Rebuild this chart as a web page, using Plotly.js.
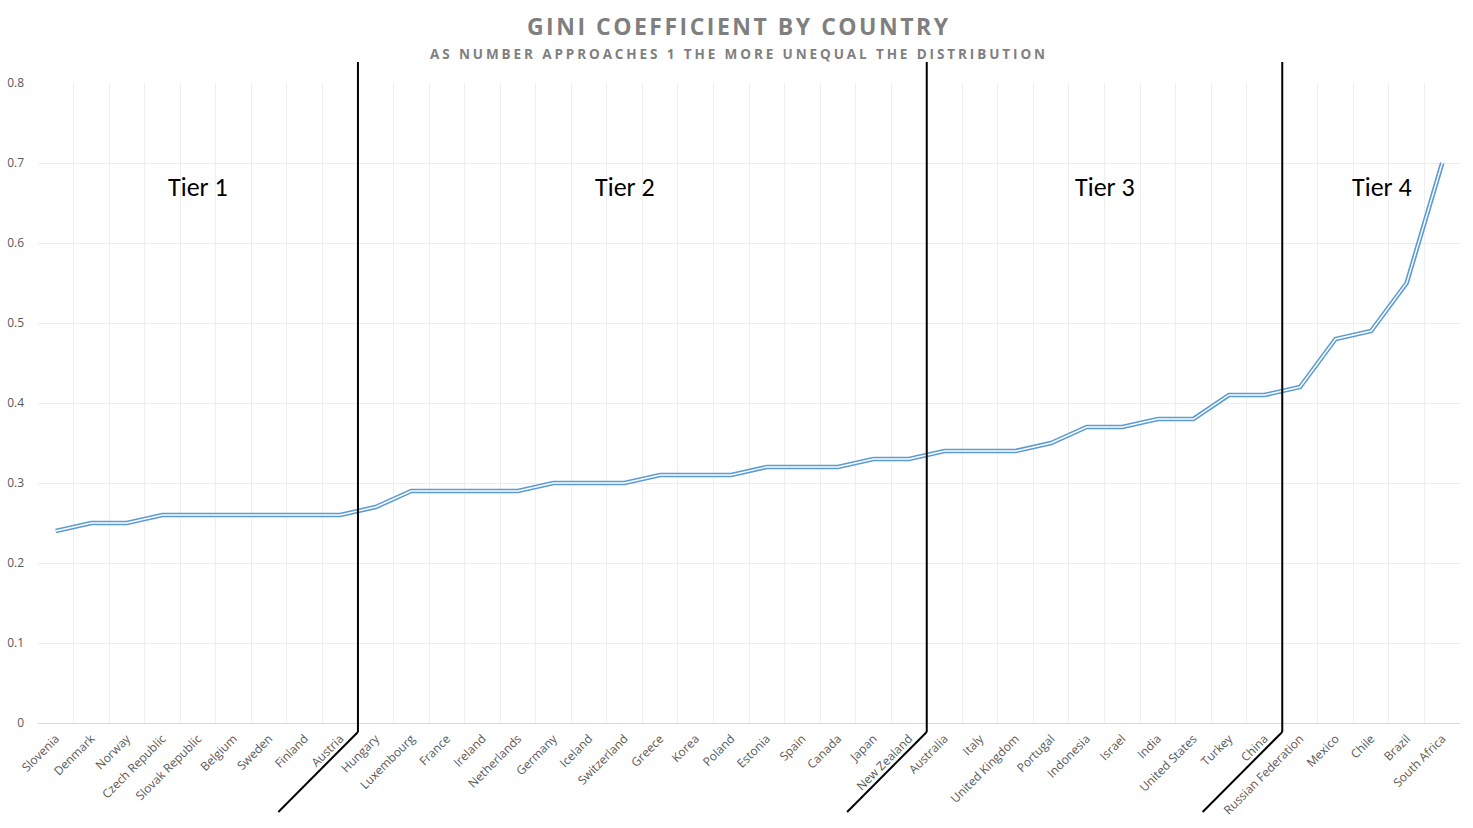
<!DOCTYPE html>
<html>
<head>
<meta charset="utf-8">
<script src="https://cdn.plot.ly/plotly-3.0.1.min.js"></script>
<style>
html,body{margin:0;padding:0;background:#fff;}
#chart{width:1473px;height:828px;}
</style>
</head>
<body>
<div id="chart"></div>
<script>
const countries = ["Slovenia","Denmark","Norway","Czech Republic","Slovak Republic","Belgium","Sweden","Finland","Austria","Hungary","Luxembourg","France","Ireland","Netherlands","Germany","Iceland","Switzerland","Greece","Korea","Poland","Estonia","Spain","Canada","Japan","New Zealand","Australia","Italy","United Kingdom","Portugal","Indonesia","Israel","India","United States","Turkey","China","Russian Federation","Mexico","Chile","Brazil","South Africa"];
const gini = [0.24,0.25,0.25,0.26,0.26,0.26,0.26,0.26,0.26,0.27,0.29,0.29,0.29,0.29,0.30,0.30,0.30,0.31,0.31,0.31,0.32,0.32,0.32,0.33,0.33,0.34,0.34,0.34,0.35,0.37,0.37,0.38,0.38,0.41,0.41,0.42,0.48,0.49,0.55,0.70];
const tierLabels = ["Tier 1","Tier 2","Tier 3","Tier 4"];
const tierLabelAt = [4, 16, 29.5, 37.3];
const tierBoundaries = [8.5, 24.5, 34.5];
const yTicks = [0,0.1,0.2,0.3,0.4,0.5,0.6,0.7,0.8];
const titleText = 'GINI COEFFICIENT BY COUNTRY';
const subtitleText = 'AS NUMBER APPROACHES 1 THE MORE UNEQUAL THE DISTRIBUTION';

const traces = [
  {x: countries, y: gini, type:'scatter', mode:'lines', line:{color:'#5b9bd5', width:4.6}, hoverinfo:'skip', showlegend:false},
  {x: countries, y: gini, type:'scatter', mode:'lines', line:{color:'#ffffff', width:1.4}, hoverinfo:'skip', showlegend:false}
];

const shapes = [];
tierBoundaries.forEach(b => {
  shapes.push({type:'line', xref:'x', yref:'paper', x0:b, x1:b, y0:1.033, y1:-0.014, line:{color:'#000', width:2}, layer:'above'});
  shapes.push({type:'line', xref:'x', yref:'paper', x0:b, x1:b-2.24, y0:-0.014, y1:-0.139, line:{color:'#000', width:2}, layer:'above'});
});

const annotations = tierLabels.map((t,i) => ({
  text:t, x:tierLabelAt[i], y:0.67, xref:'x', yref:'y', showarrow:false,
  font:{family:'Carlito, Calibri, "Open Sans", sans-serif', size:26, color:'#000'}
}));
annotations.push({
  text:subtitleText,
  xref:'paper', yref:'paper', x:0.5, y:1.045, xanchor:'center', yanchor:'middle',
  showarrow:false, font:{family:'"Open Sans", sans-serif', size:13.5, color:'#7f7f7f', weight:700}
});

const layout = {
  width:1473, height:828,
  margin:{l:38, r:13, t:83, b:105},
  paper_bgcolor:'#fff', plot_bgcolor:'#fff',
  title:{text:titleText, x:0.5, xref:'paper', xanchor:'center', y:0.967, yanchor:'middle',
    font:{family:'"Open Sans", sans-serif', size:23, color:'#7f7f7f', weight:700}},
  xaxis:{type:'category', tickangle:-45, tickson:'boundaries', showgrid:true, gridcolor:'#efefef', gridwidth:1,
    ticks:'', showline:true, linecolor:'#d9d9d9', linewidth:1, range:[-0.5, 39.5], ticklabelstandoff:3,
    tickfont:{family:'"Open Sans", sans-serif', size:12, color:'#595959'}, automargin:false, fixedrange:true},
  yaxis:{range:[0,0.8], tickvals:yTicks, ticktext:yTicks.map(v=>String(v)), showgrid:true, gridcolor:'#ececec',
    zeroline:false, showline:false, ticks:'', ticklabelstandoff:13,
    tickfont:{family:'"Open Sans", sans-serif', size:12, color:'#595959'}, automargin:false, fixedrange:true},
  shapes:shapes,
  annotations:annotations,
  showlegend:false
};

function spaceAndCenter(textEl, spacing, cx) {
  textEl.style.letterSpacing = spacing + 'px';
  const r = textEl.getBoundingClientRect();
  const host = document.getElementById('chart').getBoundingClientRect();
  const cur = r.left - host.left + r.width / 2;
  const tr = textEl.getAttribute('transform') || '';
  textEl.setAttribute('transform', tr + ' translate(' + (cx - cur + spacing/2) + ',0)');
}

Plotly.newPlot('chart', traces, layout, {displayModeBar:false, staticPlot:true}).then(() => {
  const t = document.querySelector('.gtitle');
  if (t) spaceAndCenter(t, 2.5, 737.5);
  document.querySelectorAll('.annotation').forEach(a => {
    if (a.textContent.indexOf('AS NUMBER') === 0) {
      const txt = a.querySelector('text');
      if (txt) spaceAndCenter(txt, 2.9, 737.5);
    }
  });
});
</script>
</body>
</html>
